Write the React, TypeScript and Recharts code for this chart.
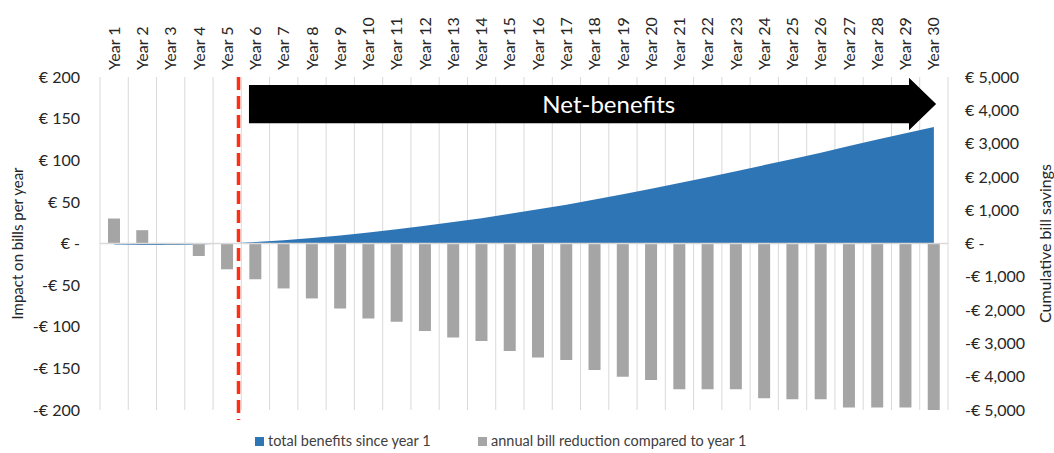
import React from 'react'
import {
  ComposedChart,
  Bar,
  Area,
  XAxis,
  YAxis,
  CartesianGrid,
  ReferenceLine,
  ReferenceArea,
  Legend,
} from 'recharts'

const years = [
  'Year 1', 'Year 2', 'Year 3', 'Year 4', 'Year 5', 'Year 6', 'Year 7', 'Year 8', 'Year 9', 'Year 10',
  'Year 11', 'Year 12', 'Year 13', 'Year 14', 'Year 15', 'Year 16', 'Year 17', 'Year 18', 'Year 19', 'Year 20',
  'Year 21', 'Year 22', 'Year 23', 'Year 24', 'Year 25', 'Year 26', 'Year 27', 'Year 28', 'Year 29', 'Year 30',
]

// annual bill reduction compared to year 1 (left axis, €)
const annualReduction = [
  30, 16, -1, -15, -31, -43, -54, -66, -78, -90,
  -94, -105, -113, -117, -129, -137, -140, -152, -160, -164,
  -175, -175, -175, -186, -187, -187, -197, -197, -197, -201,
]

// total benefits since year 1 (right axis, €)
const totalBenefits = [
  -30, -46, -45, -30, 1, 44, 98, 164, 242, 332,
  426, 531, 644, 761, 890, 1027, 1167, 1319, 1479, 1643,
  1818, 1993, 2168, 2354, 2541, 2728, 2925, 3122, 3310, 3500,
]

const leftTicks = [-200, -150, -100, -50, 0, 50, 100, 150, 200]
const rightTicks = [-5000, -4000, -3000, -2000, -1000, 0, 1000, 2000, 3000, 4000, 5000]

const rows = years.map((year, i) => ({
  year,
  reduction: annualReduction[i],
  total: totalBenefits[i],
}))

const FONT = 'Lato, "Open Sans", sans-serif'
const TEXT = '#262626'
const N = years.length

// annotation positions in "category slots" from the left edge of the plot
const ARROW_START = 5.27
const ARROW_HEAD = 28.62
const ARROW_TIP = 29.58
const ARROW_LABEL = 18.0
const DIVIDER = 4.9

const euro = (v: number) => {
  if (v === 0) return '€ -'
  const s = Math.abs(v).toLocaleString('en-US')
  return v < 0 ? `-€ ${s}` : `€ ${s}`
}

const YearTick = ({ x, y, payload }: any) => (
  <g transform={`translate(${x},${y})`}>
    <text
      transform="rotate(-90)"
      x={0}
      y={0}
      dy="0.35em"
      textAnchor="start"
      fontSize={16}
      fontFamily={FONT}
      fill={TEXT}
    >
      {payload.value}
    </text>
  </g>
)

const ArrowShape = ({ x, y, width, height }: any) => {
  const sx = (s: number) => x + (width * s) / N
  const x0 = sx(ARROW_START)
  const hx = sx(ARROW_HEAD)
  const tx = sx(ARROW_TIP)
  const top = y + height * 0.135
  const bottom = y + height * 0.865
  const mid = y + height / 2
  const pts = [
    [x0, top], [hx, top], [hx, y], [tx, mid],
    [hx, y + height], [hx, bottom], [x0, bottom],
  ].map((p) => p.join(',')).join(' ')
  return (
    <g>
      <polygon points={pts} fill="#000" />
      <text
        x={sx(ARROW_LABEL)}
        y={mid}
        dy="0.36em"
        textAnchor="middle"
        fill="#fff"
        fontSize={24}
        fontFamily={FONT}
      >
        Net-benefits
      </text>
    </g>
  )
}

const DividerShape = ({ x, y, width, height }: any) => {
  const lx = x + (width * DIVIDER) / N
  return (
    <line
      x1={lx}
      x2={lx}
      y1={y}
      y2={y + height}
      stroke="#ff2d14"
      strokeWidth={3.5}
      strokeDasharray="13 6"
    />
  )
}

const LegendContent = () => (
  <div
    style={{
      height: 43,
      boxSizing: 'border-box',
      display: 'flex',
      alignItems: 'flex-end',
      paddingLeft: 255,
      paddingBottom: 4,
      fontFamily: FONT,
      fontSize: 14.5,
      color: '#404040',
      lineHeight: '16px',
    }}
  >
    <div style={{ width: 223, display: 'flex', alignItems: 'center' }}>
      <span style={{ width: 9, height: 9, background: '#2E75B6', marginRight: 4 }} />
      total benefits since year 1
    </div>
    <div style={{ display: 'flex', alignItems: 'center' }}>
      <span style={{ width: 9, height: 9, background: '#A5A5A5', marginRight: 4 }} />
      annual bill reduction compared to year 1
    </div>
  </div>
)

const gridColumns = ({ offset }: any) =>
  years.map((_, i) => offset.left + (i * offset.width) / N).concat(offset.left + offset.width)

export default function App() {
  return (
    <div style={{ position: 'absolute', left: 0, top: 0, width: 1054, height: 453, background: '#fff' }}>
      <ComposedChart
        width={1054}
        height={453}
        data={rows}
        margin={{ top: 0, right: 0, bottom: 0, left: 0 }}
      >
        <CartesianGrid
          horizontal={false}
          stroke="#d9d9d9"
          verticalCoordinatesGenerator={gridColumns}
        />
        <XAxis
          xAxisId="cat"
          dataKey="year"
          orientation="top"
          height={77}
          interval={0}
          tickLine={false}
          axisLine={false}
          tickSize={0}
          tickMargin={7}
          tick={<YearTick />}
        />
        <YAxis
          yAxisId="left"
          domain={[-200, 200]}
          ticks={leftTicks}
          allowDataOverflow
          width={100}
          tickFormatter={euro}
          tickLine={false}
          axisLine={false}
          tickSize={0}
          tickMargin={20}
          tick={{ fontSize: 16, fill: TEXT, fontFamily: FONT }}
          label={{
            content: ({ viewBox }: any) => (
              <text
                transform={`translate(${viewBox.x + 18},${viewBox.y + viewBox.height / 2}) rotate(-90)`}
                textAnchor="middle"
                dy="0.35em"
                fontSize={15}
                fontFamily={FONT}
                fill={TEXT}
              >
                Impact on bills per year
              </text>
            ),
          }}
        />
        <YAxis
          yAxisId="right"
          orientation="right"
          domain={[-5000, 5000]}
          ticks={rightTicks}
          width={106}
          tickFormatter={euro}
          tickLine={false}
          axisLine={false}
          tickSize={0}
          tickMargin={17}
          tick={{ fontSize: 16, fill: TEXT, fontFamily: FONT, textAnchor: 'start' }}
          label={{
            content: ({ viewBox }: any) => (
              <text
                transform={`translate(${viewBox.x + 97},${viewBox.y + viewBox.height / 2}) rotate(-90)`}
                textAnchor="middle"
                dy="0.35em"
                fontSize={16}
                fontFamily={FONT}
                fill={TEXT}
              >
                Cumulative bill savings
              </text>
            ),
          }}
        />
        <ReferenceLine xAxisId="cat" yAxisId="left" y={0} stroke="#d9d9d9" strokeWidth={1.5} />
        <Area
          xAxisId="cat"
          yAxisId="right"
          type="linear"
          dataKey="total"
          name="total benefits since year 1"
          fill="#2E75B6"
          fillOpacity={1}
          stroke="none"
          baseValue={0}
          isAnimationActive={false}
        />
        <Bar
          xAxisId="cat"
          yAxisId="left"
          dataKey="reduction"
          name="annual bill reduction compared to year 1"
          fill="#A5A5A5"
          barSize={12}
          isAnimationActive={false}
        />
        <ReferenceArea
          xAxisId="cat"
          yAxisId="left"
          y1={136}
          y2={199}
          ifOverflow="visible"
          shape={<ArrowShape />}
        />
        <ReferenceArea
          xAxisId="cat"
          yAxisId="left"
          y1={-212}
          y2={200}
          ifOverflow="visible"
          shape={<DividerShape />}
        />
        <Legend verticalAlign="bottom" content={<LegendContent />} />
      </ComposedChart>
    </div>
  )
}
